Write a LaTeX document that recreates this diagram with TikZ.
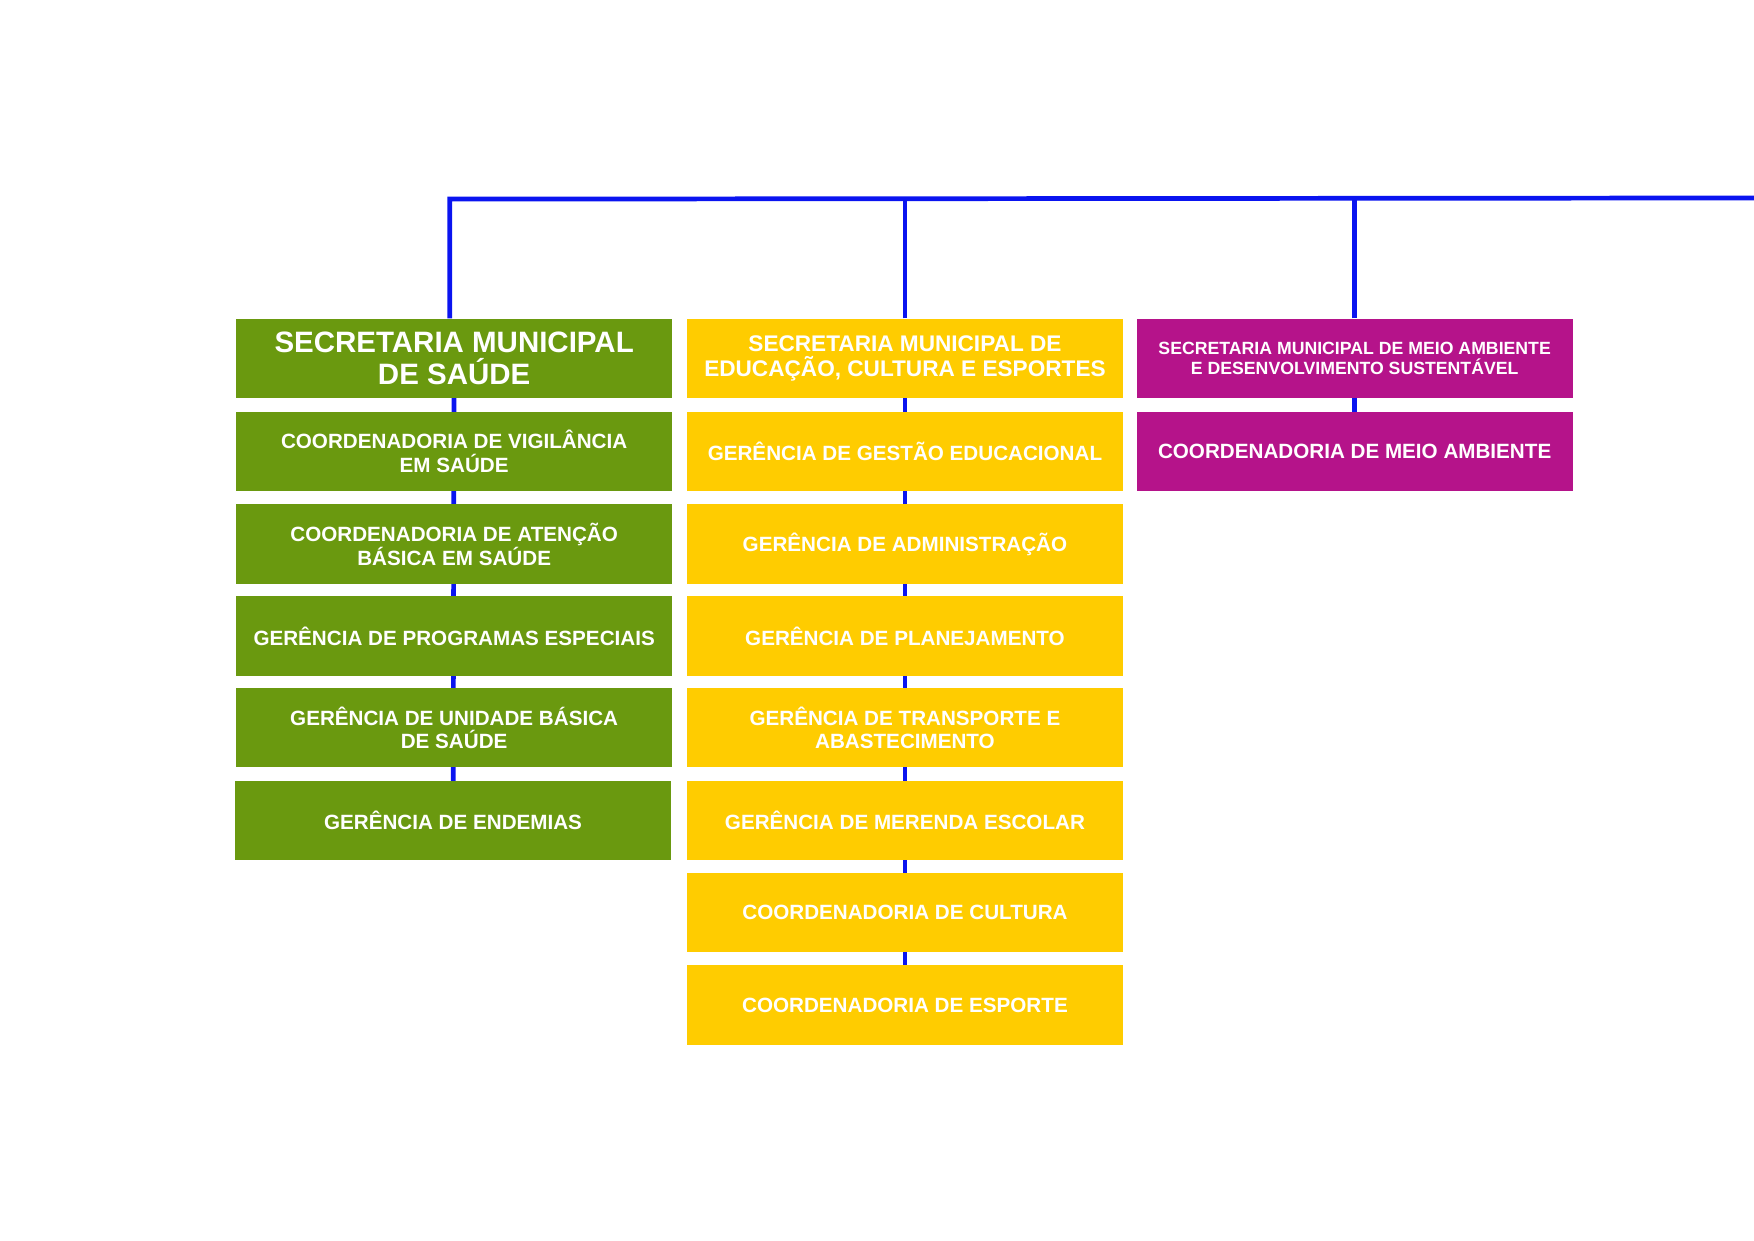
\documentclass[tikz,border=0pt]{standalone}
\usepackage{fontspec}
\setmainfont{Liberation Sans}
\usetikzlibrary{backgrounds}
\definecolor{saude}{HTML}{6A990F}
\definecolor{educ}{HTML}{FFCC00}
\definecolor{meio}{HTML}{B5138A}
\definecolor{linha}{HTML}{0A14F0}
\tikzset{
  caixa/.style={minimum width=7.8cm, minimum height=1.42cm, inner sep=2pt,
    text=white, font=\bfseries\fontsize{10.5}{12}\selectfont, align=center},
  verde/.style={caixa, fill=saude},
  amarelo/.style={caixa, fill=educ},
  roxo/.style={caixa, fill=meio},
  liga/.style={draw=linha, line width=2.4pt}
}
\begin{document}
\begin{tikzpicture}[x=0.02cm,y=0.02cm]
  \useasboundingbox (0,0) rectangle (1568,1109);
  % saude
  \node[verde, font=\bfseries\fontsize{15}{16}\selectfont] (s1) at (406,788.5) {SECRETARIA MUNICIPAL\\DE SAÚDE};
  \node[verde] (s2) at (406,705.5) {COORDENADORIA DE VIGILÂNCIA\\EM SAÚDE};
  \node[verde] (s3) at (406,622.5) {COORDENADORIA DE ATENÇÃO\\BÁSICA EM SAÚDE};
  \node[verde] (s4) at (406,540.5) {GERÊNCIA DE PROGRAMAS ESPECIAIS};
  \node[verde] (s5) at (406,458.5) {GERÊNCIA DE UNIDADE BÁSICA\\DE SAÚDE};
  \node[verde] (s6) at (405,375.5) {GERÊNCIA DE ENDEMIAS};
  % educacao
  \node[amarelo, font=\bfseries\fontsize{11.5}{13}\selectfont] (e1) at (809,788.5) {SECRETARIA MUNICIPAL DE\\EDUCAÇÃO, CULTURA E ESPORTES};
  \node[amarelo] (e2) at (809,705.5) {GERÊNCIA DE GESTÃO EDUCACIONAL};
  \node[amarelo] (e3) at (809,622.5) {GERÊNCIA DE ADMINISTRAÇÃO};
  \node[amarelo] (e4) at (809,540.5) {GERÊNCIA DE PLANEJAMENTO};
  \node[amarelo] (e5) at (809,458.5) {GERÊNCIA DE TRANSPORTE E\\ABASTECIMENTO};
  \node[amarelo] (e6) at (809,375.5) {GERÊNCIA DE MERENDA ESCOLAR};
  \node[amarelo] (e7) at (809,293.5) {COORDENADORIA DE CULTURA};
  \node[amarelo] (e8) at (809,210.5) {COORDENADORIA DE ESPORTE};
  % meio ambiente
  \node[roxo, font=\bfseries\fontsize{9}{10}\selectfont] (m1) at (1211,788.5) {SECRETARIA MUNICIPAL DE MEIO AMBIENTE\\E DESENVOLVIMENTO SUSTENTÁVEL};
  \node[roxo] (m2) at (1211,705.5) {COORDENADORIA DE MEIO AMBIENTE};
  % ligacoes
  \coordinate (topo) at (402,931);
  \coordinate (fim) at (1568,932);
  \begin{scope}[on background layer]
    \draw[liga] (s1.north -| topo) -- (topo) -- (fim);
    \draw[liga] (e1.north) -- (e1.north |- topo);
    \draw[liga] (m1.north) -- (m1.north |- topo);
    \draw[liga] (s1.center) -- (s6.center);
    \draw[liga] (e1.center) -- (e8.center);
    \draw[liga] (m1.center) -- (m2.center);
  \end{scope}
\end{tikzpicture}
\end{document}
